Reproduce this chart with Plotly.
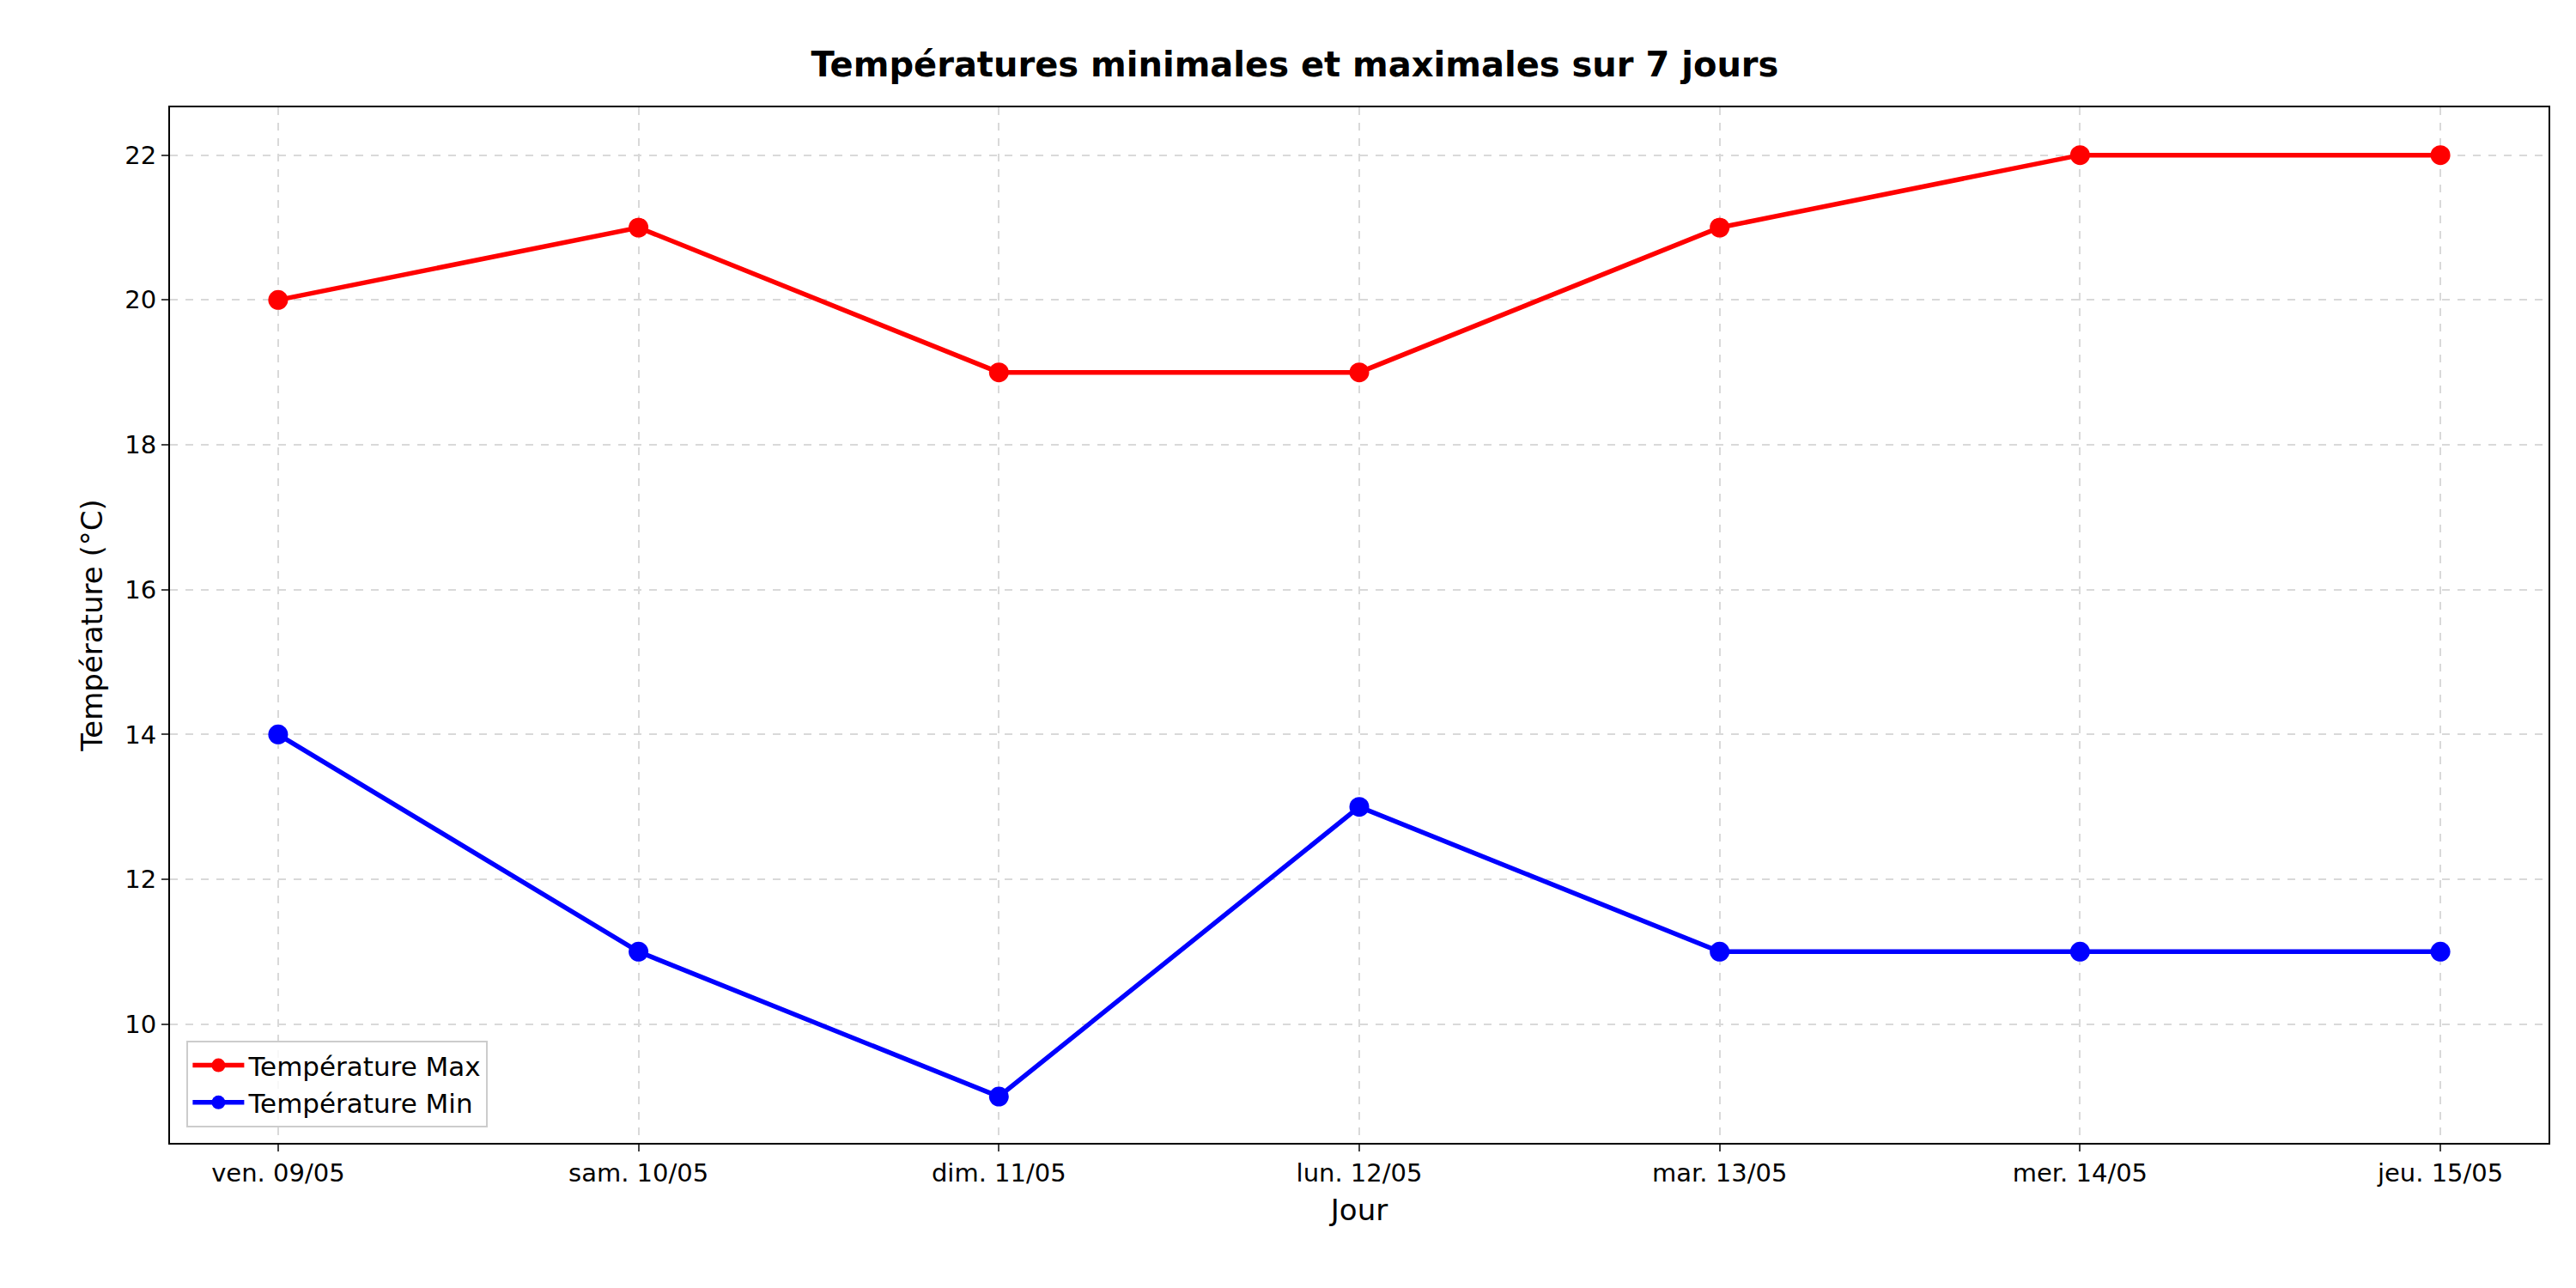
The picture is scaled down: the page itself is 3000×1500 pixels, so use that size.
import plotly.graph_objects as go

days = ["ven. 09/05", "sam. 10/05", "dim. 11/05", "lun. 12/05", "mar. 13/05", "mer. 14/05", "jeu. 15/05"]
t_max = [20, 21, 19, 19, 21, 22, 22]
t_min = [14, 11, 9, 13, 11, 11, 11]
y_ticks = [10, 12, 14, 16, 18, 20, 22]

x_idx = list(range(len(days)))

fig = go.Figure()
fig.add_trace(go.Scatter(x=x_idx, y=t_max, mode="lines+markers", name="Température Max",
                         line=dict(color="#ff0000", width=5.5), marker=dict(color="#ff0000", size=23)))
fig.add_trace(go.Scatter(x=x_idx, y=t_min, mode="lines+markers", name="Température Min",
                         line=dict(color="#0000ff", width=5.5), marker=dict(color="#0000ff", size=23)))

fig.update_layout(
    width=3000, height=1500,
    plot_bgcolor="white", paper_bgcolor="white",
    font=dict(family="DejaVu Sans", size=29, color="black"),
    margin=dict(l=190, r=40, t=117, b=177),
    title=dict(text="<b>Températures minimales et maximales sur 7 jours</b>",
               x=0.5, xanchor="center", y=0.965, yanchor="top", font=dict(size=40)),
    legend=dict(x=0.007, y=0.015, xanchor="left", yanchor="bottom",
                bordercolor="#cccccc", borderwidth=2, bgcolor="rgba(255,255,255,0.8)",
                font=dict(size=31), itemwidth=60, tracegroupgap=10),
)
fig.update_xaxes(
    title=dict(text="Jour", font=dict(size=34)),
    tickvals=x_idx, ticktext=days, range=[-0.3, 6.3],
    showline=True, linecolor="black", linewidth=2, mirror=True,
    ticks="outside", ticklen=8, tickwidth=2,
    showgrid=True, gridcolor="#d9d9d9", griddash="dash", gridwidth=2, zeroline=False,
)
fig.update_yaxes(
    title=dict(text="Température (°C)", font=dict(size=34)),
    tickvals=y_ticks, range=[8.36, 22.66],
    showline=True, linecolor="black", linewidth=2, mirror=True,
    ticks="outside", ticklen=8, tickwidth=2,
    showgrid=True, gridcolor="#d9d9d9", griddash="dash", gridwidth=2, zeroline=False,
)

fig.write_html("out.html")
